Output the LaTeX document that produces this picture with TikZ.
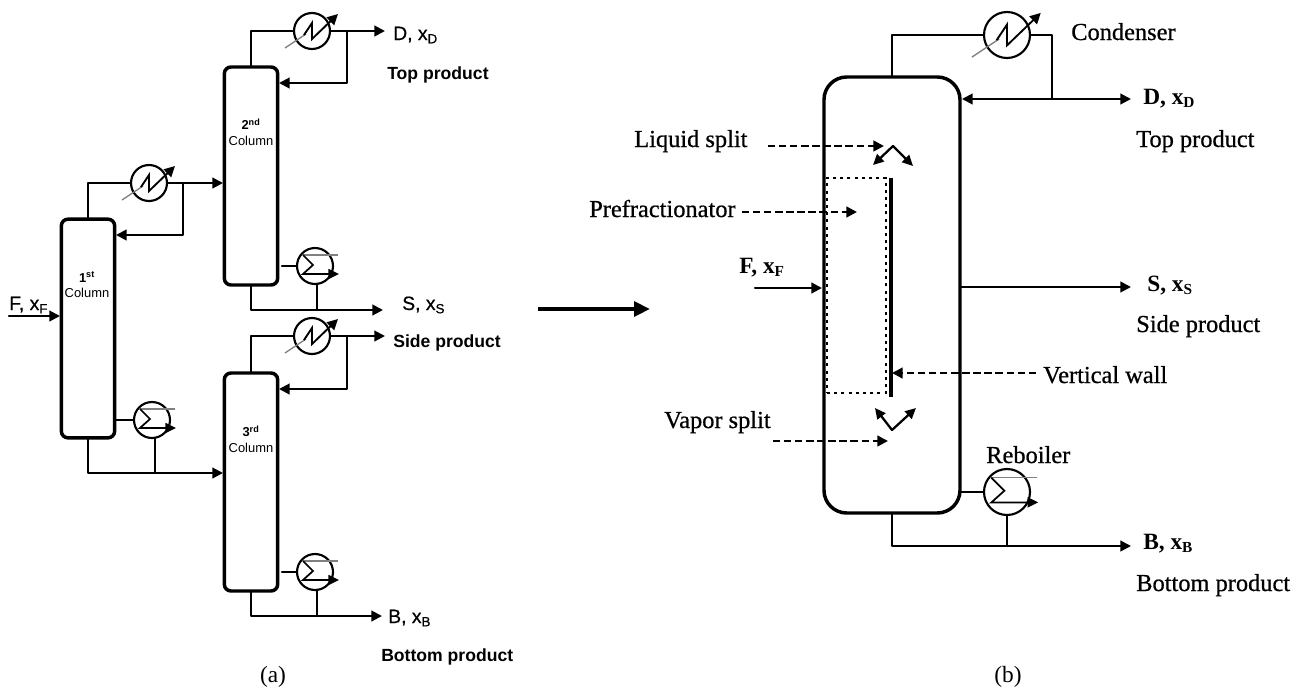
\documentclass[tikz,border=0pt]{standalone}
\usepackage{fontspec}
\setmainfont{Liberation Serif}
\newfontfamily\arialfont{Liberation Sans}
\newfontfamily\semifont[FakeBold=0.7]{Liberation Serif}
\newfontfamily\arialsemi[FakeBold=0.6]{Liberation Sans}
\usetikzlibrary{arrows.meta,shapes.geometric}
\newcommand{\lowsub}[2]{\raisebox{-0.17em}{\fontsize{#2}{#2}\selectfont #1}}
\tikzset{
  pipe/.style={line width=1.6pt,line join=round,line cap=round},
  flow/.style={pipe,-{Triangle[length=8pt,width=8pt]}},
  dashflow/.style={line width=1.7pt,dash pattern=on 5.5pt off 2.8pt,-{Triangle[length=8pt,width=8pt]}},
  splitflow/.style={line width=1.7pt,line cap=round,-{Triangle[length=8pt,width=7.5pt]}},
  column/.style={draw,line width=2.6pt,rectangle,rounded corners=5pt,minimum width=40pt,minimum height=164pt,inner sep=0pt,outer sep=0pt},
  hx/.style={draw,line width=1.6pt,circle,inner sep=0pt,outer sep=0pt},
  labA/.style={font=\arialsemi\fontsize{14.5}{14.5}\selectfont,anchor=base west,inner sep=0pt},
  prodA/.style={font=\arialfont\bfseries\fontsize{13.2}{13.2}\selectfont,anchor=base west,inner sep=0pt},
  collab/.style={font=\arialfont\fontsize{9.7}{11.5}\selectfont,align=center,inner sep=0pt},
  labB/.style={font=\bfseries\fontsize{17.5}{17.5}\selectfont,anchor=base west,inner sep=0pt},
  prodB/.style={font=\semifont\fontsize{18.3}{18.3}\selectfont,anchor=base west,inner sep=0pt},
  capt/.style={font=\fontsize{17.5}{17.5}\selectfont,anchor=base,inner sep=0pt},
}
% name, x, y, radius in px, detail scale
\newcommand{\condenser}[5]{%
  \node[hx,minimum size=#4*1.5pt] (#1) at (#2,#3) {};
  \begin{scope}[shift={(#2,#3)},scale=#5]
    \draw[gray,line width=1pt] (-27,17) -- (-6,3);
    \draw[line width=1.4pt,line join=miter,-{Triangle[length=8pt,width=8pt]}] (-8,4) -- (0,-8) -- (0,8) -- (26,-17);
  \end{scope}}
\newcommand{\reboiler}[5]{%
  \node[hx,minimum size=#4*1.5pt] (#1) at (#2,#3) {};
  \begin{scope}[shift={(#2,#3)},scale=#5]
    \draw[gray,line width=1pt] (-12,-11) -- (23,-11);
    \draw[line width=1.3pt,line join=miter,-{Triangle[length=8pt,width=7.5pt]}] (-12,-11) -- (-2,-1) -- (-12,8) -- (24,8);
  \end{scope}}
\begin{document}
\begin{tikzpicture}[x=0.75pt,y=-0.75pt]
\useasboundingbox (0,0) rectangle (1300,686);
% ---------- (a)
\node[column,minimum height=164pt] (c1) at (88,328.5) {};
\node[column,minimum height=163.5pt] (c2) at (251,176) {};
\node[column,minimum height=163.5pt] (c3) at (251,482) {};
\node[collab] (c1t) at (87,285) {\textbf{1\textsuperscript{st}}\\Column};
\node[collab] (c2t) at (251,132) {\textbf{2\textsuperscript{nd}}\\Column};
\node[collab] (c3t) at (251,439) {\textbf{3\textsuperscript{rd}}\\Column};
\condenser{k1}{149}{183}{18}{1}
\condenser{k2}{312}{31}{18}{1}
\condenser{k3}{312}{336}{18}{1}
\reboiler{r1}{152}{420}{18}{1}
\reboiler{r2}{315}{266}{18}{1}
\reboiler{r3}{315}{572}{18}{1}
% free ends and junctions
\coordinate (fin) at (9,316);
\coordinate (c1in) at (60,316);
\coordinate (j1) at (183,183);
\coordinate (c1ref) at (116,235);
\coordinate (c2in) at (223,183);
\coordinate (j2) at (347,31);
\coordinate (c2ref) at (279,83);
\coordinate (dend) at (385,31);
\coordinate (j3) at (347,336);
\coordinate (c3ref) at (279,389);
\coordinate (send3) at (385,336);
\coordinate (s2) at (282,266);
\coordinate (s3) at (282,572);
\coordinate (b1) at (155,473);
\coordinate (c3in) at (223,473);
\coordinate (b2) at (317,310);
\coordinate (send) at (383,310);
\coordinate (b3) at (317,616);
\coordinate (bend) at (382,616);
\draw[flow] (fin) -- (c1in);
\draw[pipe] (c1.north) |- (k1.west);
\draw[flow] (k1.east) -- (c2in);
\draw[flow] (j1) |- (c1ref);
\draw[pipe] (c2.north) |- (k2.west);
\draw[flow] (k2.east) -- (dend);
\draw[flow] (j2) |- (c2ref);
\draw[pipe] (c3.north) |- (k3.west);
\draw[flow] (k3.east) -- (send3);
\draw[flow] (j3) |- (c3ref);
\draw[pipe] (c1.east |- r1.west) -- (r1.west);
\draw[pipe] (s2) -- (r2.west);
\draw[pipe] (s3) -- (r3.west);
\draw[flow] (c1.south) |- (c3in);
\draw[pipe] (r1.south -| b1) -- (b1);
\draw[flow] (c2.south) |- (send);
\draw[pipe] (r2.south -| b2) -- (b2);
\draw[flow] (c3.south) |- (bend);
\draw[pipe] (r3.south -| b3) -- (b3);
\node[labA] (lF) at (9,310) {F, x\lowsub{F}{10}};
\node[labA] (lD) at (393,40) {D, x\lowsub{D}{10}};
\node[prodA] (lTop) at (387,79) {Top product};
\node[labA] (lS) at (402,310) {S, x\lowsub{S}{10}};
\node[prodA] (lSide) at (393,347) {Side product};
\node[labA] (lB) at (388,623) {B, x\lowsub{B}{10}};
\node[prodA] (lBot) at (381,661) {Bottom product};
\node[capt] (capa) at (273,682) {(a)};
% ---------- big arrow
\coordinate (ba) at (538,309);
\coordinate (bb) at (650,309);
\draw[line width=3pt,-{Triangle[length=12pt,width=11pt]}] (ba) -- (bb);
% ---------- (b)
\node[column,rounded corners=17pt,minimum width=102pt,minimum height=327pt] (dwc) at (892,295) {};
\condenser{kb}{1007}{35}{23}{1.3}
\reboiler{rb}{1007}{492}{23}{1.3}
\coordinate (jb) at (1052,35);
\coordinate (jd) at (1052,99);
\coordinate (dw) at (962,99);
\coordinate (de) at (1131,99);
\coordinate (fb) at (755,288);
\coordinate (fe) at (822,288);
\coordinate (sb) at (960,287);
\coordinate (se) at (1131,287);
\coordinate (bj) at (1007,546);
\coordinate (be) at (1131,546);
\draw[pipe] (dwc.north) |- (kb.west);
\draw[pipe] (kb.east) -- (jb) -- (jd);
\draw[flow] (jd) -- (dw);
\draw[flow] (jd) -- (de);
\draw[flow] (fb) -- (fe);
\draw[flow] (sb) -- (se);
\draw[pipe] (dwc.east |- rb.west) -- (rb.west);
\draw[flow] (dwc.south) |- (be);
\draw[pipe] (rb.south) -- (bj);
% internal
\node[draw,line width=2.2pt,dash pattern=on 2.2pt off 3.2pt,minimum width=44.25pt,minimum height=161.25pt,inner sep=0pt,outer sep=0pt] (pref) at (856.5,285.5) {};
\coordinate (wt) at (891,178);
\coordinate (wb) at (891,397);
\draw[line width=2.6pt] (wt) -- (wb);
\coordinate (ls) at (893,146);
\coordinate (lsl) at (873,165);
\coordinate (lsr) at (913,166);
\draw[splitflow] (ls) -- (lsl);
\draw[splitflow] (ls) -- (lsr);
\coordinate (vs) at (892,430);
\coordinate (vsl) at (875,408);
\coordinate (vsr) at (916,408);
\draw[splitflow] (vs) -- (vsl);
\draw[splitflow] (vs) -- (vsr);
\node[prodB] (tLiq) at (634,147) {Liquid split};
\node[prodB] (tPre) at (589,217) {Prefractionator};
\node[prodB] (tVap) at (664,428) {Vapor split};
\node[prodB] (tWall) at (1043,383) {Vertical wall};
\coordinate (a1) at (768,146);
\coordinate (a2) at (884,146);
\coordinate (a3) at (742,212);
\coordinate (a4) at (857,212);
\coordinate (a5) at (773,441);
\coordinate (a6) at (888,441);
\coordinate (a7) at (1036,373);
\coordinate (a8) at (892,373);
\draw[dashflow] (a1) -- (a2);
\draw[dashflow] (a3) -- (a4);
\draw[dashflow] (a5) -- (a6);
\draw[dashflow] (a7) -- (a8);
\node[prodB] (tCond) at (1071,40) {Condenser};
\node[prodB] (tReb) at (986,463) {Reboiler};
\node[labB] (tD) at (1143,104) {D, x\lowsub{D}{11.5}};
\node[prodB] (tTop) at (1136,147) {Top product};
\node[labB] (tF) at (739,273) {F, x\lowsub{F}{11.5}};
\node[labB] (tS) at (1147,291) {S, x\lowsub{S}{11.5}};
\node[prodB] (tSide) at (1136,332) {Side product};
\node[labB] (tB) at (1143,549) {B, x\lowsub{B}{11.5}};
\node[prodB] (tBot) at (1136,591) {Bottom product};
\node[capt] (capb) at (1008,682) {(b)};
\end{tikzpicture}
\end{document}
